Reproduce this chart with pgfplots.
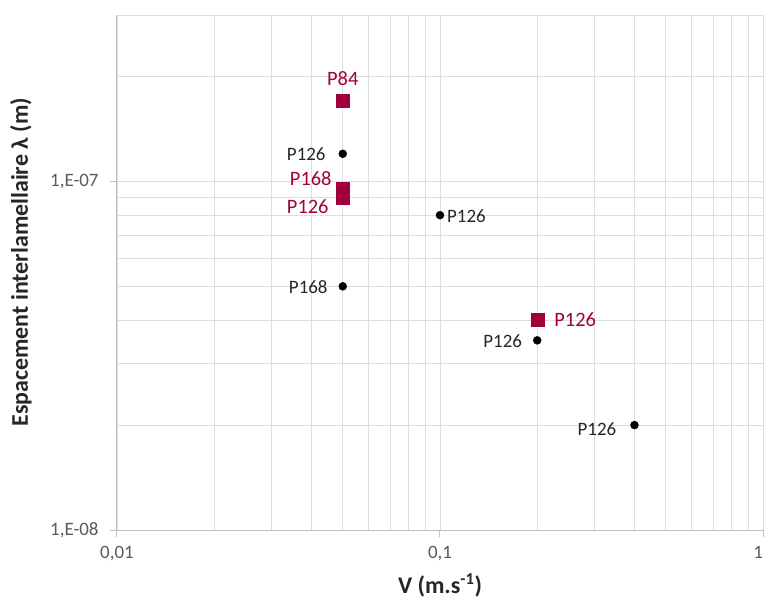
\documentclass[border=0pt]{standalone}
\usepackage{pgfplots}
\pgfplotsset{compat=1.18}
\usepackage{fontspec}
\setmainfont{Carlito}
\definecolor{redm}{RGB}{160,0,60}
\definecolor{gridc}{RGB}{222,222,222}
\definecolor{axc}{RGB}{191,191,191}
\definecolor{tickc}{RGB}{89,89,89}
\begin{document}
\begin{tikzpicture}
\begin{axis}[
 xmode=log, ymode=log,
 scale only axis, width=646bp, height=515bp,
 xmin=0.01, xmax=1, ymin=1e-8, ymax=3e-7,
 axis lines=left, axis line style={axc, line width=1bp, -},
 xtick={0.01,0.1,1}, xticklabels={{0,01},{0,1},{\makebox[0pt][r]{1}}},
 ytick={1e-8,1e-7}, yticklabels={{1,E-08},{1,E-07}},
 minor xtick={0.02,0.03,0.04,0.05,0.06,0.07,0.08,0.09,0.2,0.3,0.4,0.5,0.6,0.7,0.8,0.9},
 minor ytick={2e-8,3e-8,4e-8,5e-8,6e-8,7e-8,8e-8,9e-8,2e-7,3e-7},
 grid=both,
 major grid style={gridc, line width=0.8bp},
 minor grid style={gridc, line width=0.8bp},
 tick style={axc, line width=1bp},
 major tick length=7bp, minor tick length=0pt,
 tick align=outside,
 ticklabel style={font=\fontsize{19}{22}\selectfont, text=tickc},
 xticklabel style={yshift=-6bp},
 yticklabel style={xshift=-8bp},
 xlabel={V (m.s\textsuperscript{-1})},
 ylabel={Espacement interlamellaire λ (m)},
 label style={font=\fontsize{24}{28}\selectfont\bfseries, text=black!85},
 ylabel style={at={(axis description cs:-0.1656,0.52)}, anchor=north, inner sep=0pt},
 xlabel style={at={(axis description cs:0.5,0)}, anchor=center, inner sep=0pt, yshift=-55bp},
 clip=false,
]
\addplot[only marks, mark=square*, mark size=6.5bp, redm] coordinates {
 (0.05,1.7e-7) (0.05,9.5e-8) (0.05,9e-8) (0.2,4e-8)};
\addplot[only marks, mark=*, mark size=4bp, black] coordinates {
 (0.05,1.2e-7) (0.1,8e-8) (0.05,5e-8) (0.2,3.5e-8) (0.4,2e-8)};
\begin{scope}[every node/.style={inner sep=0pt, font=\fontsize{19}{22}\selectfont}]
\node[redm, anchor=base, yshift=16bp, font=\fontsize{20.5}{24}\selectfont] at (axis cs:0.05,1.7e-7) {P84};
\node[redm, anchor=base east, xshift=-11bp, yshift=3.5bp, font=\fontsize{20.5}{24}\selectfont] at (axis cs:0.05,9.5e-8) {P168};
\node[redm, anchor=base east, xshift=-14bp, yshift=-16.5bp, font=\fontsize{20.5}{24}\selectfont] at (axis cs:0.05,9e-8) {P126};
\node[redm, anchor=base west, xshift=17bp, yshift=-6bp, font=\fontsize{20.5}{24}\selectfont] at (axis cs:0.2,4e-8) {P126};
\node[black!85, anchor=base east, xshift=-17bp, yshift=-7bp] at (axis cs:0.05,1.2e-7) {P126};
\node[black!85, anchor=base west, xshift=7bp, yshift=-7bp] at (axis cs:0.1,8e-8) {P126};
\node[black!85, anchor=base east, xshift=-15bp, yshift=-7bp] at (axis cs:0.05,5e-8) {P168};
\node[black!85, anchor=base east, xshift=-15bp, yshift=-7bp] at (axis cs:0.2,3.5e-8) {P126};
\node[black!85, anchor=base east, xshift=-18bp, yshift=-10bp] at (axis cs:0.4,2e-8) {P126};
\end{scope}
\end{axis}
\pgfresetboundingbox
\path ([shift={(-117bp,-71bp)}]current axis.south west) rectangle ([shift={(1bp,15bp)}]current axis.north east);
\end{tikzpicture}
\end{document}
